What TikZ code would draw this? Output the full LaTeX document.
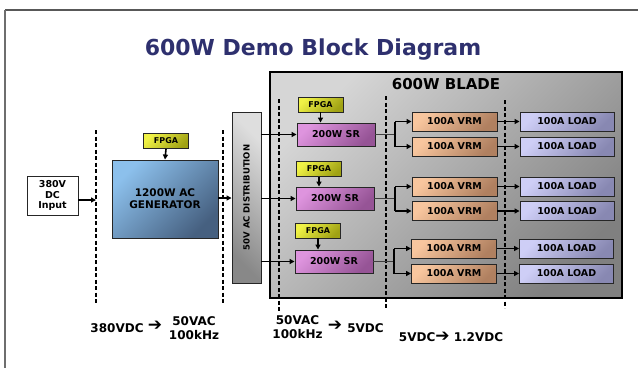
\documentclass[tikz,border=0pt]{standalone}
\usepackage{fontspec}
\setmainfont{DejaVu Sans}
\usetikzlibrary{arrows.meta}
\newcommand{\bigarr}{{\fontsize{17}{14}\selectfont ➔}}
\definecolor{titlec}{RGB}{46,48,110}
\definecolor{framec}{RGB}{110,110,110}
\definecolor{fpgaL}{RGB}{240,242,70}
\definecolor{fpgaD}{RGB}{160,162,20}
\definecolor{genL}{RGB}{140,192,236}
\definecolor{genD}{RGB}{70,96,128}
\definecolor{grayL}{RGB}{222,222,222}
\definecolor{grayD}{RGB}{136,136,136}
\definecolor{bladeL}{RGB}{214,214,214}
\definecolor{bladeD}{RGB}{128,128,128}
\definecolor{srL}{RGB}{222,148,222}
\definecolor{srD}{RGB}{150,84,150}
\definecolor{vrmL}{RGB}{248,198,158}
\definecolor{vrmD}{RGB}{176,128,96}
\definecolor{loadL}{RGB}{206,206,246}
\definecolor{loadD}{RGB}{136,136,178}
\tikzset{
  fs/.style={font=\bfseries\fontsize{#1}{#1}\selectfont},
  box/.style={draw=black!85, line width=0.9pt, inner sep=0pt, align=center},
  fpga/.style={box, top color=fpgaL, bottom color=fpgaD, shading angle=45,
    minimum width=45pt, minimum height=15pt, fs=8},
  srbox/.style={box, top color=srL, bottom color=srD, shading angle=45,
    minimum width=78pt, minimum height=23pt, fs=9.5},
  vrm/.style={box, top color=vrmL, bottom color=vrmD, shading angle=45,
    minimum width=85pt, minimum height=19pt, fs=9.5},
  load/.style={box, top color=loadL, bottom color=loadD, shading angle=45,
    minimum width=94pt, minimum height=19pt, fs=9.5},
  arr/.style={line width=1.6pt, draw=black, -{Triangle[length=5pt,width=5pt]}},
  thinl/.style={line width=0.9pt, draw=black!75},
  branchl/.style={line width=1.2pt, draw=black},
  divider/.style={line width=2pt, draw=black, dash pattern=on 4pt off 2.5pt},
  lbl/.style={inner sep=0pt, align=center, font=\bfseries\fontsize{12}{14}\selectfont}
}
\begin{document}
\begin{tikzpicture}[x=1pt,y=-1pt]
\useasboundingbox (0,0) rectangle (638,368);
\fill[white] (0,0) rectangle (638,368);
% frame
\coordinate (fTL) at (5,10);
\coordinate (fTR) at (638,10);
\coordinate (fBL) at (5,368);
\draw[line width=2pt, draw=framec!80!black] (fTL) -- (fTR);
\draw[line width=2pt, draw=framec] (fTL) -- (fBL);
% title
\node[text=titlec, fs=22, inner sep=0pt] (title) at (313,50) {600W Demo Block Diagram};
% blade
\node[draw=black, line width=1.5pt, top color=bladeL, bottom color=bladeD, shading angle=45,
  minimum width=352pt, minimum height=226pt, inner sep=0pt] (blade) at (446,185) {};
\node[fs=15, inner sep=0pt] (bladetitle) at (446,84) {600W BLADE};
% dividers
\coordinate (d1t) at (96,130);  \coordinate (d1b) at (96,303);
\coordinate (d2t) at (223,130); \coordinate (d2b) at (223,303);
\coordinate (d3t) at (279,99);  \coordinate (d3b) at (279,312);
\coordinate (d4t) at (386,96);  \coordinate (d4b) at (386,308);
\coordinate (d5t) at (505,100); \coordinate (d5b) at (505,308);
\draw[divider] (d1t) -- (d1b);
\draw[divider] (d2t) -- (d2b);
\draw[divider] (d3t) -- (d3b);
\draw[divider] (d4t) -- (d4b);
\draw[divider] (d5t) -- (d5b);
% input
\node[box, fill=white, minimum width=51pt, minimum height=39pt,
  font=\bfseries\fontsize{9.5}{10.5}\selectfont] (inp) at (52.5,195.5) {380V\\DC\\Input};
% generator
\node[fpga] (f0) at (166,141) {FPGA};
\node[box, top color=genL, bottom color=genD, shading angle=45,
  minimum width=106pt, minimum height=78pt,
  font=\bfseries\fontsize{10.5}{12}\selectfont] (gen) at (165,199) {1200W AC\\GENERATOR};
% distribution
\node[box, top color=grayL, bottom color=grayD, shading angle=-45, rotate=90,
  minimum width=171pt, minimum height=29pt, fs=8.5] (dist) at (246.5,197.5) {50V AC DISTRIBUTION};
% SR rows
\node[fpga] (f1) at (320.5,104.5) {FPGA};
\node[fpga] (f2) at (319,169) {FPGA};
\node[fpga] (f3) at (318,230.5) {FPGA};
\node[srbox] (sr1) at (336,134.5) {200W SR};
\node[srbox] (sr2) at (335,198.5) {200W SR};
\node[srbox] (sr3) at (334,261.5) {200W SR};
% VRMs
\node[vrm] (v1a) at (454.5,121.5) {100A VRM};
\node[vrm] (v1b) at (454.5,146.5) {100A VRM};
\node[vrm] (v2a) at (454.5,186.5) {100A VRM};
\node[vrm] (v2b) at (454.5,211) {100A VRM};
\node[vrm] (v3a) at (454,248.5) {100A VRM};
\node[vrm] (v3b) at (454,273.5) {100A VRM};
% loads
\node[load] (l1a) at (567,121.5) {100A LOAD};
\node[load] (l1b) at (567,146.5) {100A LOAD};
\node[load] (l2a) at (567,186.5) {100A LOAD};
\node[load] (l2b) at (567,211) {100A LOAD};
\node[load] (l3a) at (566.5,248.5) {100A LOAD};
\node[load] (l3b) at (566.5,273.5) {100A LOAD};
% connectors
\draw[arr] (inp.east |- 0,200) -- (d1t |- 0,200);
\draw[arr] (f0.south) -- (gen.north);
\draw[arr] (gen.east |- 0,198) -- (dist.north |- 0,198);
\draw[arr] (dist.south |- sr1) -- (sr1.west);
\draw[arr] (dist.south |- sr2) -- (sr2.west);
\draw[arr] (dist.south |- sr3) -- (sr3.west);
\draw[arr] (f1.south) -- (f1.south |- sr1.north);
\draw[arr] (f2.south) -- (f2.south |- sr2.north);
\draw[arr] (f3.south) -- (f3.south |- sr3.north);
\coordinate (j1) at (395,134.5);
\coordinate (j2) at (395,198.5);
\coordinate (j3) at (394,261.5);
\draw[thinl] (sr1.east) -- (j1);
\draw[thinl] (sr2.east) -- (j2);
\draw[thinl] (sr3.east) -- (j3);
\draw[branchl] (j1 |- v1a) -- (j1 |- v1b);
\draw[branchl] (j2 |- v2a) -- (j2 |- v2b);
\draw[branchl] (j3 |- v3a) -- (j3 |- v3b);
\draw[arr] (j1 |- v1a) -- (v1a.west);
\draw[arr] (j1 |- v1b) -- (v1b.west);
\draw[arr] (j2 |- v2a) -- (v2a.west);
\draw[arr] (j2 |- v2b) -- (v2b.west);
\draw[arr] (j3 |- v3a) -- (v3a.west);
\draw[arr] (j3 |- v3b) -- (v3b.west);
\draw[arr] (v1a.east) -- (l1a.west);
\draw[arr] (v1b.east) -- (l1b.west);
\draw[arr] (v2a.east) -- (l2a.west);
\draw[arr] (v2b.east) -- (l2b.west);
\draw[arr] (v3a.east) -- (l3a.west);
\draw[arr] (v3b.east) -- (l3b.west);
% bottom labels
\node[lbl] (t1) at (117,328) {380VDC};
\node[lbl] (t1a) at (155,326) {\bigarr};
\node[lbl] (t2) at (194,328) {50VAC\\100kHz};
\node[lbl] (t3) at (297.5,327) {50VAC\\100kHz};
\node[lbl] (t3a) at (335,326) {\bigarr};
\node[lbl] (t4) at (365.5,328) {5VDC};
\node[lbl] (t5) at (451,337) {5VDC\bigarr\ 1.2VDC};
\end{tikzpicture}
\end{document}
